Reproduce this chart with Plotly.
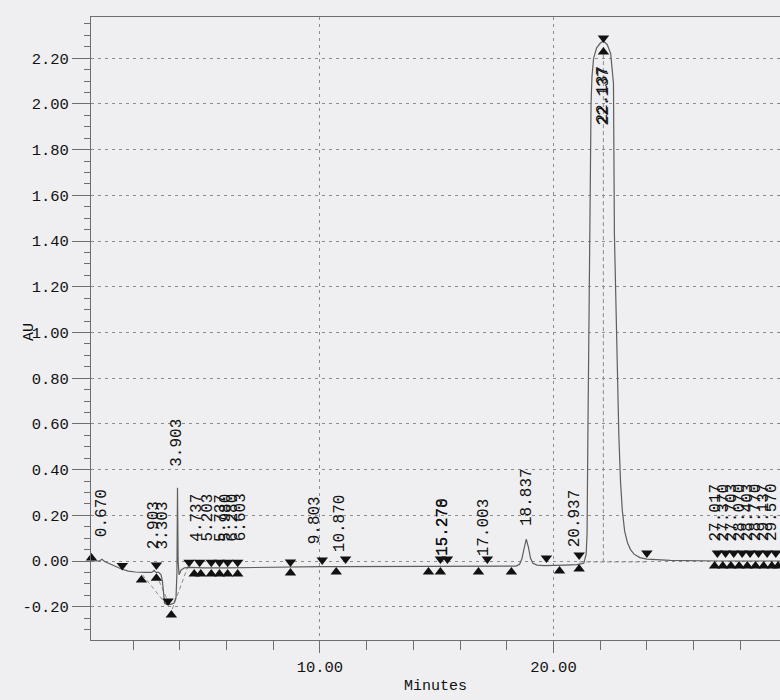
import plotly.graph_objects as go

# ---------------- data ----------------
# detector trace (minutes, AU)
trace_t = [0.20, 0.55, 0.62, 0.67, 0.72, 0.80, 1.00, 1.20, 1.50, 1.80, 2.10, 2.50, 2.80, 2.88,
           2.903, 2.93, 3.00, 3.10, 3.20, 3.26, 3.303, 3.35, 3.45, 3.60, 3.75, 3.84, 3.88,
           3.903, 3.93, 3.97, 4.05, 4.20, 4.50, 5.00, 6.00, 7.00, 8.00, 9.00, 10.00, 11.00,
           12.00, 13.00, 14.00, 15.00, 16.00, 17.00, 18.00, 18.40, 18.55, 18.65, 18.75,
           18.837, 18.93, 19.02, 19.12, 19.30, 19.60, 20.00, 20.50, 21.00, 21.30, 21.40,
           21.44, 21.47, 21.50, 21.54, 21.58, 21.61, 21.65, 21.72, 21.85, 22.00, 22.137,
           22.30, 22.45, 22.52, 22.57, 22.61, 22.68, 22.74, 22.80, 22.87, 22.95, 23.05,
           23.17, 23.30, 23.45, 23.70, 24.00, 25.00, 26.00, 27.00, 28.00, 29.00, 29.70]
trace_au = [0.000, 0.000, 0.004, 0.008, 0.003, -0.003, -0.012, -0.022, -0.035, -0.044, -0.048,
            -0.050, -0.050, -0.044, -0.040, -0.045, -0.050, -0.050, -0.060, -0.090, -0.160,
            -0.185, -0.190, -0.190, -0.185, -0.160, -0.050, 0.320, 0.000, -0.060, -0.040,
            -0.030, -0.028, -0.030, -0.030, -0.028, -0.027, -0.026, -0.025, -0.025, -0.025,
            -0.025, -0.025, -0.025, -0.024, -0.024, -0.024, -0.022, -0.014, 0.010, 0.058,
            0.096, 0.060, 0.012, -0.010, -0.018, -0.020, -0.020, -0.018, -0.016, -0.010,
            0.030, 0.120, 0.500, 0.900, 1.300, 1.650, 2.000, 2.120, 2.200, 2.245, 2.265,
            2.275, 2.260, 2.220, 2.150, 2.090, 1.430, 1.050, 0.800, 0.550, 0.350, 0.220,
            0.130, 0.080, 0.050, 0.030, 0.015, 0.008, 0.003, 0.000, 0.000, 0.000, 0.000, 0.000]

# integration markers
down_t = [1.54, 3.00, 3.50, 4.40, 4.85, 5.35, 5.70, 6.05, 6.48, 8.74, 10.10, 11.10, 15.16,
          15.46, 17.17, 19.70, 21.10, 22.14, 24.00, 27.02, 27.37, 27.72, 28.08, 28.42, 28.78,
          29.15, 29.52]
down_au = [-0.020, -0.018, -0.175, -0.005, -0.005, -0.005, -0.005, -0.005, -0.005, -0.004,
           0.004, 0.009, 0.009, 0.009, 0.009, 0.013, 0.026, 2.288, 0.035, 0.035, 0.035, 0.035,
           0.035, 0.035, 0.035, 0.035, 0.035]
up_t = [0.22, 2.36, 3.00, 3.64, 4.62, 4.90, 5.35, 5.70, 6.05, 6.48, 8.74, 10.70, 14.65,
        15.16, 16.79, 18.20, 20.26, 21.10, 22.14, 26.90, 27.25, 27.60, 27.95, 28.30, 28.65,
        29.00, 29.35, 29.62]
up_au = [0.013, -0.083, -0.075, -0.236, -0.057, -0.057, -0.057, -0.057, -0.057, -0.057,
         -0.052, -0.048, -0.048, -0.048, -0.048, -0.048, -0.044, -0.035, 2.227, -0.022,
         -0.022, -0.022, -0.022, -0.022, -0.022, -0.022, -0.022, -0.022]

# peak labels: retention time text, position (min) and AU level of label base
label_text = ["0.670", "2.903", "3.303", "3.903", "4.737", "5.203", "5.737", "5.980", "6.280",
              "6.603", "9.803", "10.870", "15.270", "15.278", "17.003", "18.837", "20.937",
              "27.017", "27.370", "27.703", "28.070", "28.403", "28.770", "29.137", "29.570"]
label_t = [0.670, 2.903, 3.303, 3.903, 4.737, 5.203, 5.737, 5.980, 6.280, 6.603, 9.803,
           10.870, 15.270, 15.278, 17.003, 18.837, 20.937, 26.98, 27.32, 27.66, 28.00,
           28.34, 28.68, 29.02, 29.36]
label_base = [0.10, 0.048, 0.048, 0.41, 0.08, 0.08, 0.08, 0.08, 0.08, 0.08, 0.07, 0.035,
              0.018, 0.018, 0.018, 0.15, 0.057, 0.083, 0.083, 0.083, 0.083, 0.083, 0.083,
              0.083, 0.083]
main_label = ["22.137", "22.137"]
main_label_t = [22.125, 22.150]
main_label_base = [1.91, 1.90]

# baseline construction lines (dashed)
seg_t = [[2.40, 3.50], [3.00, 3.55], [3.68, 4.40], [22.137, 22.137], [21.10, 24.00]]
seg_au = [[-0.060, -0.200], [-0.060, -0.190], [-0.210, -0.010], [-0.005, 2.260], [-0.004, -0.004]]

y_ticks = [-0.2, 0.0, 0.2, 0.4, 0.6, 0.8, 1.0, 1.2, 1.4, 1.6, 1.8, 2.0, 2.2]
y_ticktext = ["-0.20", "0.00", "0.20", "0.40", "0.60", "0.80", "1.00", "1.20", "1.40",
              "1.60", "1.80", "2.00", "2.20"]
x_ticks = [10, 20]
x_ticktext = ["10.00", "20.00"]

# ---------------- figure ----------------
FONT = "Liberation Mono, Courier New, monospace"
BG = "#efeff1"
INK = "#111111"
AX = "#6e6e6e"

fig = go.Figure()

for st, sa in zip(seg_t, seg_au):
    fig.add_trace(go.Scatter(x=st, y=sa, mode="lines", showlegend=False, hoverinfo="skip",
                             line=dict(color="#8a8a8a", width=1, dash="4px,3px")))

fig.add_trace(go.Scatter(x=trace_t, y=trace_au, mode="lines", showlegend=False,
                         line=dict(color="#5e5e5e", width=1.2)))

fig.add_trace(go.Scatter(x=down_t, y=down_au, mode="markers", showlegend=False, cliponaxis=False,
                         marker=dict(symbol="triangle-down", size=10, color="#111111")))
fig.add_trace(go.Scatter(x=up_t, y=up_au, mode="markers", showlegend=False, cliponaxis=False,
                         marker=dict(symbol="triangle-up", size=10, color="#111111")))

annos = []
for txt, t, b in zip(label_text + main_label, label_t + main_label_t, label_base + main_label_base):
    annos.append(dict(x=t, y=b, xref="x", yref="y", text=txt, showarrow=False, textangle=-90,
                      xanchor="center", yanchor="bottom", borderpad=0,
                      font=dict(family=FONT, size=16, color=INK)))

L, R, T, B = 91, 0, 17, 60
W, H = 780, 700
annos.append(dict(xref="paper", yref="paper", x=-(91 - 29) / (W - L - R),
                  y=(H - B - 332) / (H - T - B), text="AU", showarrow=False, textangle=-90,
                  xanchor="center", yanchor="middle", font=dict(family=FONT, size=15, color=INK)))

fig.update_layout(
    width=W, height=H, margin=dict(l=L, r=R, t=T, b=B, pad=0),
    paper_bgcolor=BG, plot_bgcolor=BG, showlegend=False,
    annotations=annos,
    xaxis=dict(range=[0.2, 29.7], tickmode="array", tickvals=x_ticks, ticktext=x_ticktext,
               ticks="outside", ticklen=12, tickcolor=AX, tickwidth=1,
               showline=True, linecolor=AX, linewidth=1, mirror=True, zeroline=False,
               showgrid=True, gridcolor="#8c8c8c", gridwidth=1, griddash="3px,4px",
               minor=dict(tick0=0, dtick=2, ticks="outside", ticklen=9, tickcolor=AX, showgrid=False),
               tickfont=dict(family=FONT, size=15.5, color=INK),
               title=dict(text="Minutes", standoff=3, font=dict(family=FONT, size=15, color=INK))),
    yaxis=dict(range=[-0.3456, 2.38], tickmode="array", tickvals=y_ticks, ticktext=y_ticktext,
               ticks="outside", ticklen=18, tickcolor=AX, tickwidth=1,
               showline=True, linecolor=AX, linewidth=1, mirror=False, zeroline=False,
               showgrid=True, gridcolor="#8c8c8c", gridwidth=1, griddash="3px,4px",
               minor=dict(tick0=0, dtick=0.05, ticks="outside", ticklen=6, tickcolor=AX, showgrid=False),
               tickfont=dict(family=FONT, size=15.5, color=INK)),
)

fig.write_html("out.html")
